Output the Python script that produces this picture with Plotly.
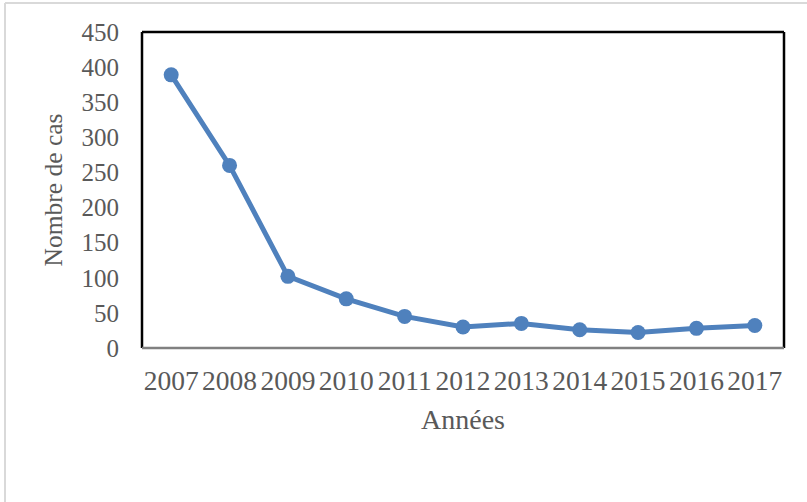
import plotly.graph_objects as go

# Nombre de cas par année
annees = ["2007", "2008", "2009", "2010", "2011", "2012", "2013", "2014", "2015", "2016", "2017"]
nombre_cas = [389, 260, 102, 70, 45, 30, 35, 26, 22, 28, 32]
y_ticks = [0, 50, 100, 150, 200, 250, 300, 350, 400, 450]

BLEU = "#4f81bd"
GRIS_TEXTE = "#595959"
POLICE = "Liberation Serif, Times New Roman, serif"

fig = go.Figure()
fig.add_trace(go.Scatter(
    x=annees,
    y=nombre_cas,
    mode="lines+markers",
    line=dict(color=BLEU, width=5),
    marker=dict(color=BLEU, size=15),
    showlegend=False,
    hoverinfo="x+y",
))

fig.update_layout(
    width=807,
    height=502,
    margin=dict(l=142, r=23, t=32, b=154),
    paper_bgcolor="white",
    plot_bgcolor="white",
    font=dict(family=POLICE, color=GRIS_TEXTE, size=25),
)

fig.update_xaxes(
    type="category",
    range=[-0.5, len(annees) - 0.5],
    showgrid=False,
    zeroline=False,
    showline=False,
    ticks="",
    ticklabelstandoff=13,
    tickfont=dict(size=27.5, family=POLICE, color=GRIS_TEXTE),
    title=dict(text="Années", font=dict(size=28, family=POLICE, color=GRIS_TEXTE), standoff=14),
)

fig.update_yaxes(
    range=[0, 450],
    tickvals=y_ticks,
    showgrid=False,
    zeroline=False,
    showline=False,
    ticks="",
    ticklabelstandoff=22,
    tickfont=dict(size=25, family=POLICE, color=GRIS_TEXTE),
    title=dict(text="Nombre de cas", font=dict(size=25.5, family=POLICE, color=GRIS_TEXTE), standoff=11),
)

# Cadre de la zone de tracé : trois côtés noirs, base grise
cadre = [
    dict(x0=0, x1=0, y0=0, y1=1, color="black"),
    dict(x0=0, x1=1, y0=1, y1=1, color="black"),
    dict(x0=1, x1=1, y0=0, y1=1, color="black"),
    dict(x0=0, x1=1, y0=0, y1=0, color="#808080"),
]
for c in cadre:
    fig.add_shape(type="line", xref="x domain", yref="y domain",
                  x0=c["x0"], x1=c["x1"], y0=c["y0"], y1=c["y1"],
                  line=dict(color=c["color"], width=2.5), layer="above")

# Bordure légère du graphique (côtés gauche et haut)
fig.add_shape(type="line", xref="paper", yref="paper",
              x0=-137 / 642, x1=-137 / 642, y0=-154 / 316, y1=1 + 29 / 316,
              line=dict(color="#d9d9d9", width=2))
fig.add_shape(type="line", xref="paper", yref="paper",
              x0=-137 / 642, x1=1 + 23 / 642, y0=1 + 29 / 316, y1=1 + 29 / 316,
              line=dict(color="#d9d9d9", width=2))

fig.write_html("out.html")
